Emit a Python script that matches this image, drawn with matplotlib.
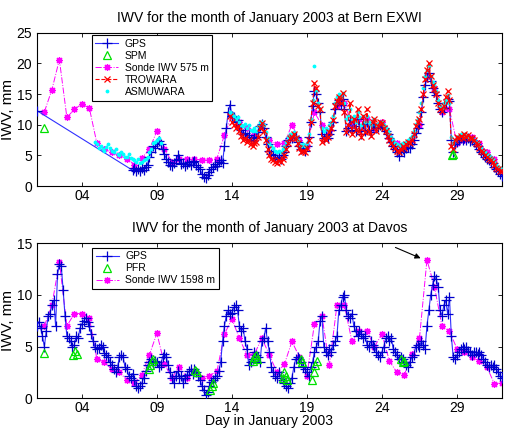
import numpy as np
import matplotlib
matplotlib.use("Agg")
import matplotlib.pyplot as plt

plt.rcParams['font.family'] = ['Liberation Sans', 'DejaVu Sans']

# ---------------- data: Bern EXWI ----------------
step = 0.125  # 3-hourly samples
gps_bern_first = (1.0, 12.3)
gps_bern_start = 7.375
gps_bern = [
    2.6, 3.0, 2.4, 2.8, 2.5,
    3.0, 2.6, 3.2, 3.5, 4.8, 5.5, 6.5, 6.2,
    7.0, 7.3, 6.8, 6.0, 5.2, 4.5, 4.0, 3.4,
    3.3, 3.8, 4.2, 5.0, 4.4, 3.6, 3.8, 3.3,
    3.6, 4.0, 3.5, 3.9, 4.1, 3.4, 3.2, 2.8,
    2.0, 1.5, 1.3, 1.8, 2.3, 2.8, 3.2, 3.6,
    3.3, 3.9, 4.2, 3.8, 6.5, 9.5, 12.0, 13.3,
    11.5, 11.2, 10.5, 10.8, 9.8, 9.2, 8.5, 8.7,
    8.0, 8.3, 7.6, 7.4, 7.8, 8.0, 8.8, 9.8,
    10.2, 9.5, 8.0, 6.8, 5.8, 5.2, 5.0, 4.6,
    4.5, 4.8, 4.4, 5.0, 5.5, 6.5, 7.5, 7.9,
    7.8, 8.2, 8.0, 7.2, 6.5, 6.0, 6.2, 5.8,
    6.5, 8.0, 10.5, 13.0, 15.5, 15.0, 13.5, 12.0,
    8.5, 7.8, 8.2, 7.9, 8.5, 9.2, 10.5, 12.5,
    13.5, 14.0, 13.2, 14.2, 12.5, 9.0, 9.5, 10.8,
    9.2, 10.5, 9.0, 11.0, 9.8, 8.5, 10.2, 9.0,
    10.5, 9.2, 8.8, 9.8, 10.2, 9.5, 9.6, 10.0,
    9.8, 9.4, 9.0, 8.5, 7.8, 7.2, 6.5, 6.0,
    5.5, 4.9, 5.8, 6.0, 5.6, 6.2, 6.4, 6.2,
    6.8, 7.5, 8.6, 9.5, 10.2, 12.0, 14.5, 16.5,
    17.8, 18.5, 17.2, 16.0, 15.3, 14.8, 13.5, 12.5,
    12.0, 12.8, 13.5, 14.2, 13.8, 7.5, 5.5, 6.8,
    7.2, 7.5, 7.8, 7.5, 7.9, 7.6, 7.8, 7.4,
    7.5, 7.2, 6.8, 6.5, 6.0, 5.6, 5.2, 4.8,
    4.5, 4.2, 4.0, 3.8, 3.2, 2.8, 2.4, 2.0,
    1.6,
]

spm_days = [1.45, 28.65, 28.72]
spm_vals = [9.5, 5.0, 5.3]

sonde_bern_start = 1.5
sonde_bern = [
    12.1, 15.7, 20.6, 11.2, 12.5, 13.4, 12.7, 7.0, 6.0, 5.5,
    5.0, 4.5, 3.5, 4.6, 6.0, 9.0, 6.0, 4.0, 4.5, 4.4,
    4.4, 4.3, 4.2, 4.5, 8.3, 11.5, 10.5, 9.5, 8.5, 10.0,
    7.5, 6.8, 7.0, 10.0, 7.5, 6.5, 12.0, 10.0, 9.0, 13.0,
    13.5, 10.0, 11.0, 11.0, 9.5, 10.5, 8.0, 7.0, 6.5, 7.5,
    10.0, 18.0, 16.0, 12.0, 12.5, 7.0, 7.5, 8.0, 7.0, 5.5,
    4.5,
]

trowara_start = 13.875
trowara = [
    11.5,
    10.5, 10.0, 9.5, 9.8, 9.0, 8.2, 7.5, 7.8,
    7.2, 7.5, 6.8, 6.5, 7.0, 7.2, 8.0, 9.5,
    10.3, 9.0, 7.5, 6.0, 5.0, 4.5, 4.2, 4.0,
    3.8, 4.2, 3.9, 4.5, 5.0, 6.0, 7.0, 7.8,
    8.0, 8.5, 7.8, 7.0, 6.2, 5.5, 5.8, 5.6,
    6.2, 7.5, 10.5, 13.5, 16.8, 16.0, 13.0, 12.5,
    7.2, 7.8, 7.5, 8.0, 8.8, 9.5, 10.8, 13.0,
    13.8, 14.5, 13.5, 15.2, 12.0, 8.8, 10.0, 13.5,
    8.5, 11.0, 9.2, 12.5, 9.0, 8.0, 11.5, 8.8,
    12.5, 9.0, 8.2, 10.5, 11.0, 9.0, 9.8, 10.5,
    10.3, 9.5, 9.0, 8.2, 7.5, 7.0, 6.5, 6.2,
    5.8, 5.5, 6.0, 6.5, 6.2, 6.8, 7.2, 7.0,
    7.5, 8.5, 9.8, 10.5, 11.0, 12.5, 15.0, 17.5,
    19.0, 20.0, 18.0, 16.5, 15.8, 15.0, 13.5, 12.5,
    12.2, 13.0, 14.5, 15.5, 14.0, 6.5, 6.0, 7.5,
    8.0, 7.8, 8.2, 7.8, 8.5, 8.0, 8.3, 7.8,
    7.8, 7.5, 7.0, 6.8, 6.2, 5.8, 5.5, 5.0,
    4.8, 4.5, 4.2, 4.0, 3.5, 3.0, 2.8, 2.5,
    2.5,
]

asmu_a_start = 4.875
asmu_a = [
    7.2,
    6.8, 6.2, 6.5, 6.0, 5.8, 6.4, 6.8, 6.2,
    5.8, 5.5, 6.0, 5.2, 5.0, 5.6, 5.3, 4.8,
    4.8, 5.2, 4.6, 4.5, 4.2, 4.0, 4.4, 3.8,
    3.9, 4.2, 4.5, 4.8, 5.5, 6.0, 7.0, 7.2,
    7.5, 7.8, 7.0,
]
asmu_b_start = 13.875
asmu_b = [
    12.0,
    11.8, 11.5, 11.0, 11.2, 10.5, 10.0, 9.8, 10.2,
    9.5, 10.0, 9.2, 9.0, 9.5, 9.0, 9.8, 10.5,
    10.5, 10.0, 8.8, 7.8, 7.0, 6.5, 6.2, 5.8,
    5.5, 5.8, 5.5, 6.0, 6.5, 7.2, 8.0, 8.5,
    8.5, 8.8, 8.0, 7.5, 6.8, 6.5, 6.8, 6.5,
    7.0, 8.5, 11.0, 14.0, 19.5, 15.5, 13.5, 12.5,
    9.5, 9.0, 9.5, 9.2, 10.0, 10.5, 11.5, 13.5,
    14.5, 15.0, 14.5, 15.2, 13.5, 11.0, 11.5, 12.5,
    11.0, 11.5, 10.5, 12.0, 11.2, 10.0, 11.5, 10.5,
    11.5, 10.5, 10.0, 10.8, 11.0, 10.0, 10.2, 10.5,
    10.5, 10.0, 9.5, 9.0, 8.5, 8.0, 7.5, 7.0,
    6.8, 6.5, 6.8, 7.0, 6.8, 7.2, 7.5, 7.8,
    8.2, 9.0, 10.2, 11.0, 12.0, 13.5, 16.0, 18.0,
    19.0, 19.5, 18.0, 17.0, 16.5, 15.5, 14.0, 13.0,
    12.8, 13.5, 14.0, 14.8, 13.5, 8.0, 7.0, 7.5,
    8.0, 8.2, 8.5, 8.0, 8.5, 8.2, 8.0, 7.8,
    7.8, 7.6, 7.2, 7.0, 6.5, 6.2, 5.8, 5.5,
    5.2, 5.0, 4.8, 4.5, 4.0, 3.5, 3.2, 3.0,
    2.8,
]

# ---------------- data: Davos ----------------
gps_davos_start = 1.0
gps_davos = [
    7.0, 7.4, 6.8, 6.0, 5.0, 6.5, 8.0, 8.2,
    9.0, 9.5, 7.0, 12.0, 13.0, 12.8, 10.5, 8.0,
    6.0, 5.8, 5.5, 5.0, 5.2, 6.0, 5.8, 6.8,
    7.2, 7.5, 7.8, 7.4, 7.0, 6.2, 5.5, 5.0,
    4.8, 4.9, 5.2, 5.0, 4.4, 4.2, 4.0, 3.5,
    3.2, 2.8, 2.5, 3.0, 4.0, 4.2, 4.0, 3.0,
    2.8, 2.2, 2.0, 2.4, 1.8, 1.2, 1.0, 1.2,
    1.5, 2.0, 2.6, 3.2, 3.5, 3.8, 3.4, 3.6,
    3.5, 3.0, 3.2, 4.0, 4.3, 4.0, 3.2, 2.5,
    2.0, 1.5, 2.2, 2.6, 2.0, 2.2, 1.5, 2.0,
    2.3, 2.6, 2.8, 2.4, 2.8, 2.5, 2.2, 1.8,
    1.2, 0.8, 0.3, 0.6, 1.2, 1.6, 1.8, 2.0,
    2.2, 2.6, 3.5, 5.5, 7.0, 8.0, 8.5, 8.2,
    8.3, 8.8, 9.0, 8.5, 7.0, 6.5, 6.8, 5.5,
    4.8, 3.2, 3.5, 3.8, 4.5, 4.2, 4.0, 3.5,
    5.5, 5.8, 6.8, 5.5, 4.5, 3.0, 2.5, 2.2,
    2.0, 2.5, 2.2, 1.8, 1.5, 1.2, 1.0, 1.5,
    2.0, 3.0, 3.8, 4.0, 3.8, 3.5, 3.0, 2.8,
    2.5, 2.2, 3.0, 3.5, 4.5, 5.0, 5.5, 7.5,
    8.0, 5.0, 4.5, 4.2, 4.8, 4.5, 5.2, 5.5,
    6.0, 8.5, 9.0, 9.8, 10.0, 8.5, 8.0, 7.8,
    8.2, 7.0, 6.5, 6.0, 6.5, 6.2, 5.8, 6.0,
    5.2, 5.0, 5.5, 5.2, 5.0, 4.5, 4.2, 4.0,
    4.5, 5.0, 5.8, 6.0, 5.5, 5.8, 4.8, 4.5,
    4.2, 3.8, 4.0, 3.8, 3.5, 3.2, 3.0, 3.5,
    4.0, 4.2, 5.0, 5.2, 5.0, 5.5, 5.2, 4.8,
    7.0, 8.5, 10.0, 11.0, 11.8, 11.5, 10.8, 8.5,
    8.0, 9.0, 9.5, 8.2, 9.8, 6.0, 4.0, 3.8,
    4.2, 4.5, 4.8, 5.0, 4.8, 5.0, 4.6, 4.5,
    4.2, 4.5, 4.5, 4.3, 4.5, 4.2, 3.8, 3.5,
    3.2, 3.0, 3.2, 3.0, 3.2, 2.8, 2.5, 2.2,
    2.0,
]

pfr_days = [1.45, 3.4, 3.55, 3.65, 8.45, 8.55, 8.65, 8.75, 11.55, 11.65,
            12.55, 12.65, 12.75, 15.4, 15.5, 15.6, 15.7, 17.4, 17.5, 17.6,
            17.7, 18.6, 18.7, 19.35, 19.45, 19.55, 19.65, 25.3, 25.4, 25.5]
pfr_vals = [4.4, 4.2, 4.6, 4.3, 2.8, 3.2, 3.6, 3.8, 2.7, 2.5,
            0.8, 1.2, 1.5, 3.6, 4.0, 4.2, 3.8, 2.0, 2.5, 2.2,
            1.8, 3.8, 3.5, 1.8, 2.5, 3.2, 3.6, 3.8, 3.5, 3.6]

sonde_davos_start = 1.5
sonde_davos = [
    7.0, 9.0, 13.2, 7.0, 8.2, 8.2, 7.8, 3.8, 3.5, 2.8,
    2.5, 1.8, 1.5, 2.3, 4.2, 6.3, 3.3, 2.0, 3.0, 2.0,
    2.6, 2.0, 2.2, 2.6, 6.2, 7.7, 5.8, 4.2, 4.3, 5.8,
    4.2, 2.5, 3.3, 5.5, 4.0, 2.2, 7.2, 8.0, 3.2, 9.0,
    9.0, 5.5, 6.5, 6.5, 5.0, 6.2, 3.6, 2.5, 2.3, 4.3,
    5.8, 13.4, 10.8, 7.0, 6.5, 4.8, 4.5, 4.0, 3.6, 3.0,
    1.4, 1.5,
]

xticks = [4, 9, 14, 19, 24, 29]
xticklabels = ['04', '09', '14', '19', '24', '29']


def days_from(start, vals, dt):
    return start + dt * np.arange(len(vals))


fig = plt.figure(figsize=(5.05, 4.28), dpi=100)
ax1 = fig.add_axes([0.073, 0.565, 0.921, 0.3587])
ax2 = fig.add_axes([0.073, 0.0694, 0.921, 0.3621])

green = '#00e000'
mag = '#ff00ff'
ast = (8, 2, 0)

# ---- top panel ----
gx = np.concatenate([[gps_bern_first[0]], days_from(gps_bern_start, gps_bern, step)])
gy = np.concatenate([[gps_bern_first[1]], gps_bern])
ax1.plot(gx, gy, '-', color='#3030ff', lw=0.8, marker='+', ms=7, mec='#0000cc',
         mew=0.9, label='GPS', zorder=3)
ax1.plot(spm_days, spm_vals, linestyle='none', marker='^', ms=6, mfc='none',
         mec=green, mew=0.9, label='SPM', zorder=5)
ax1.plot(days_from(sonde_bern_start, sonde_bern, 0.5), sonde_bern, '-.',
         color=mag, lw=0.7, marker=ast, ms=5, mew=0.9, label='Sonde IWV 575 m',
         zorder=2)
ax1.plot(days_from(trowara_start, trowara, step), trowara, '--', color='red',
         lw=0.8, marker='x', ms=4.5, mew=0.9, label='TROWARA', zorder=4)
ax1.plot(np.concatenate([days_from(asmu_a_start, asmu_a, step),
                         days_from(asmu_b_start, asmu_b, step)]),
         np.concatenate([asmu_a, asmu_b]), linestyle='none', marker='.',
         color='cyan', ms=3.5, label='ASMUWARA', zorder=3.5)
ax1.set_ylim(0, 25)
ax1.set_yticks([0, 5, 10, 15, 20, 25])
ax1.set_title('IWV for the month of January 2003 at Bern EXWI', fontsize=10, pad=8)
ax1.set_ylabel('IWV, mm', fontsize=11)
leg1 = ax1.legend(loc='upper left', bbox_to_anchor=(0.118, 0.985), fontsize=7.5,
                  frameon=True, fancybox=False, edgecolor='black', framealpha=1,
                  handlelength=2.2, borderpad=0.35, labelspacing=0.2,
                  handletextpad=0.6, borderaxespad=0)
leg1.get_frame().set_linewidth(0.8)
leg1.set_zorder(10)

# ---- bottom panel ----
ax2.plot(days_from(gps_davos_start, gps_davos, step), gps_davos, '-',
         color='#3030ff', lw=0.8, marker='+', ms=7, mec='#0000cc', mew=0.9,
         label='GPS', zorder=3)
ax2.plot(pfr_days, pfr_vals, linestyle='none', marker='^', ms=6, mfc='none',
         mec=green, mew=0.9, label='PFR', zorder=4)
ax2.plot(days_from(sonde_davos_start, sonde_davos, 0.5), sonde_davos, '-.',
         color=mag, lw=0.7, marker=ast, ms=5, mew=0.9, label='Sonde IWV 1598 m',
         zorder=2)
ax2.set_ylim(0, 15)
ax2.set_yticks([0, 5, 10, 15])
ax2.set_title('IWV for the month of January 2003 at Davos', fontsize=10, pad=8)
ax2.set_ylabel('IWV, mm', fontsize=11)
ax2.set_xlabel('Day in January 2003', fontsize=10)
ax2.xaxis.set_label_coords(0.5, -0.1)
ax2.annotate('', xy=(26.75, 13.45), xytext=(24.9, 14.6),
             arrowprops=dict(arrowstyle='-|>', color='black', lw=0.8,
                             mutation_scale=8, shrinkA=0, shrinkB=2))
leg2 = ax2.legend(loc='upper left', bbox_to_anchor=(0.119, 0.972), fontsize=7.5,
                  frameon=True, fancybox=False, edgecolor='black', framealpha=1,
                  handlelength=2.2, borderpad=0.35, labelspacing=0.2,
                  handletextpad=0.6, borderaxespad=0)
leg2.get_frame().set_linewidth(0.8)
leg2.set_zorder(10)

for ax in (ax1, ax2):
    ax.set_xlim(1, 32)
    ax.set_xticks(xticks)
    ax.set_xticklabels(xticklabels)
    ax.tick_params(direction='in', top=True, right=True, labelsize=10,
                   length=3, width=0.6)
    ax.tick_params(axis='x', pad=2)
    ax.yaxis.set_label_coords(-0.048, 0.5)
    for s in ax.spines.values():
        s.set_linewidth(0.8)

fig.savefig('out.png', dpi=100)
